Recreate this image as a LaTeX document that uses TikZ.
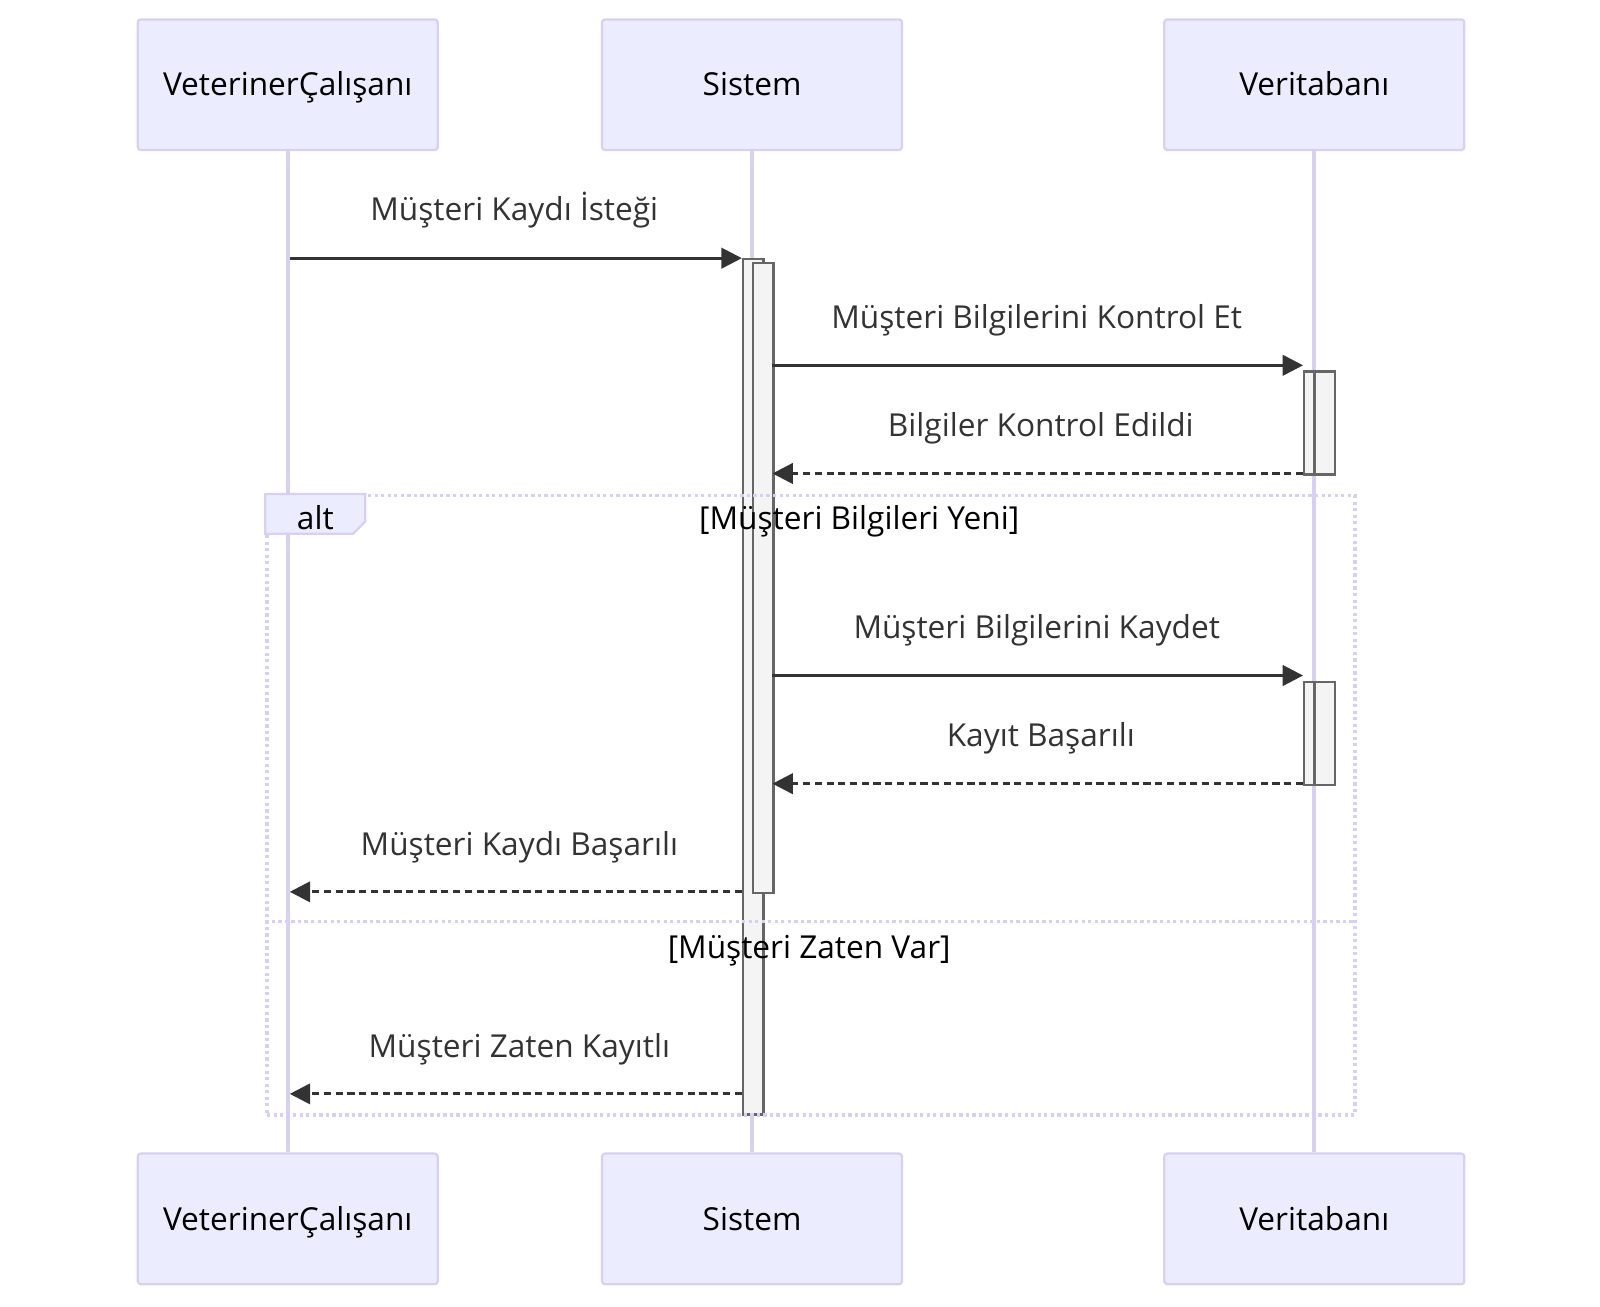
\documentclass[tikz,border=0pt]{standalone}
\usepackage{fontspec}
\setmainfont{Open Sans}
\usetikzlibrary{arrows.meta}
\definecolor{actfill}{HTML}{ECECFF}
\definecolor{actline}{HTML}{D9CFF3}
\definecolor{msgcol}{HTML}{333333}
\definecolor{actbox}{HTML}{F4F4F4}
\definecolor{actboxline}{HTML}{666666}
\tikzset{
  txt/.style={font=\fontsize{31}{36}\selectfont, inner sep=0pt, text height=22pt, text depth=0pt},
  actor/.style={txt, draw=actline, line width=2.2pt, fill=actfill, rounded corners=3pt, minimum width=294pt, minimum height=128pt, text=black},
  lifeline/.style={draw=actline, line width=3.6pt},
  actv/.style={draw=actboxline, fill=actbox, line width=2.2pt, inner sep=0pt, anchor=north west},
  msg/.style={draw=msgcol, line width=2.8pt, -{Triangle[length=20pt,width=20pt]}},
  reply/.style={msg, dash pattern=on 7pt off 4.5pt},
  lbl/.style={txt, text=msgcol},
  seclbl/.style={txt, text=black},
  altframe/.style={draw=actline, line width=3.4pt, dash pattern=on 3.2pt off 3.2pt},
}
\begin{document}
\begin{tikzpicture}[x=1pt,y=-1pt]
\useasboundingbox (0,0) rectangle (1568,1280);
% actors
\node[actor] (a1) at (282,83) {VeterinerÇalışanı};
\node[actor] (a2) at (737,83) {Sistem};
\node[actor] (a3) at (1288,83) {Veritabanı};
\node[actor] (b1) at (282,1194.5) {VeterinerÇalışanı};
\node[actor] (b2) at (737,1194.5) {Sistem};
\node[actor] (b3) at (1288,1194.5) {Veritabanı};
% lifelines
\draw[lifeline] (a1.south) -- (b1.north);
\draw[lifeline] (a2.south) -- (b2.north);
\draw[lifeline] (a3.south) -- (b3.north);
% activations
\node[actv, minimum width=20pt, minimum height=838pt] (s1) at (727,253) {};
\node[actv, minimum width=20pt, minimum height=617pt] (s2) at (737,257) {};
\node[actv, minimum width=20pt, minimum height=101pt] (v1a) at (1277,363) {};
\node[actv, minimum width=20pt, minimum height=101pt] (v1b) at (1287,363) {};
\node[actv, minimum width=20pt, minimum height=101pt] (v2a) at (1277,667) {};
\node[actv, minimum width=20pt, minimum height=101pt] (v2b) at (1287,667) {};
% alt frame
\node[altframe, anchor=north west, minimum width=1066pt, minimum height=607pt, inner sep=0pt] (alt) at (260,484) {};
\coordinate (d1) at (260,903);
\coordinate (d2) at (1326,903);
\draw[altframe] (d1) -- (d2);
\draw[draw=actline, fill=actfill, line width=2.2pt] (260,484) -- (358,484) -- (358,511) -- (346,523) -- (260,523) -- cycle;
\node[seclbl] (altlbl) at (309,508) {alt};
\node[seclbl] (sec1) at (842,508) {[Müşteri Bilgileri Yeni]};
\node[seclbl] (sec2) at (793,928) {[Müşteri Zaten Var]};
% message endpoints
\coordinate (m1s) at (284,253);  \coordinate (m1e) at (727,253);
\coordinate (m2s) at (757,358);  \coordinate (m2e) at (1277,358);
\coordinate (m3s) at (1277,464); \coordinate (m3e) at (757,464);
\coordinate (m4s) at (757,662);  \coordinate (m4e) at (1277,662);
\coordinate (m5s) at (1277,768); \coordinate (m5e) at (757,768);
\coordinate (m6s) at (727,874);  \coordinate (m6e) at (284,874);
\coordinate (m7s) at (727,1072); \coordinate (m7e) at (284,1072);
% messages
\draw[msg] (m1s) -- (m1e);
\draw[msg] (m2s) -- (m2e);
\draw[reply] (m3s) -- (m3e);
\draw[msg] (m4s) -- (m4e);
\draw[reply] (m5s) -- (m5e);
\draw[reply] (m6s) -- (m6e);
\draw[reply] (m7s) -- (m7e);
% labels
\node[lbl] (l1) at (504,205) {Müşteri Kaydı İsteği};
\node[lbl] (l2) at (1016,311) {Müşteri Bilgilerini Kontrol Et};
\node[lbl] (l3) at (1020,417) {Bilgiler Kontrol Edildi};
\node[lbl] (l4) at (1016,615) {Müşteri Bilgilerini Kaydet};
\node[lbl] (l5) at (1020,721) {Kayıt Başarılı};
\node[lbl] (l6) at (509,827) {Müşteri Kaydı Başarılı};
\node[lbl] (l7) at (509,1025) {Müşteri Zaten Kayıtlı};
\end{tikzpicture}
\end{document}
